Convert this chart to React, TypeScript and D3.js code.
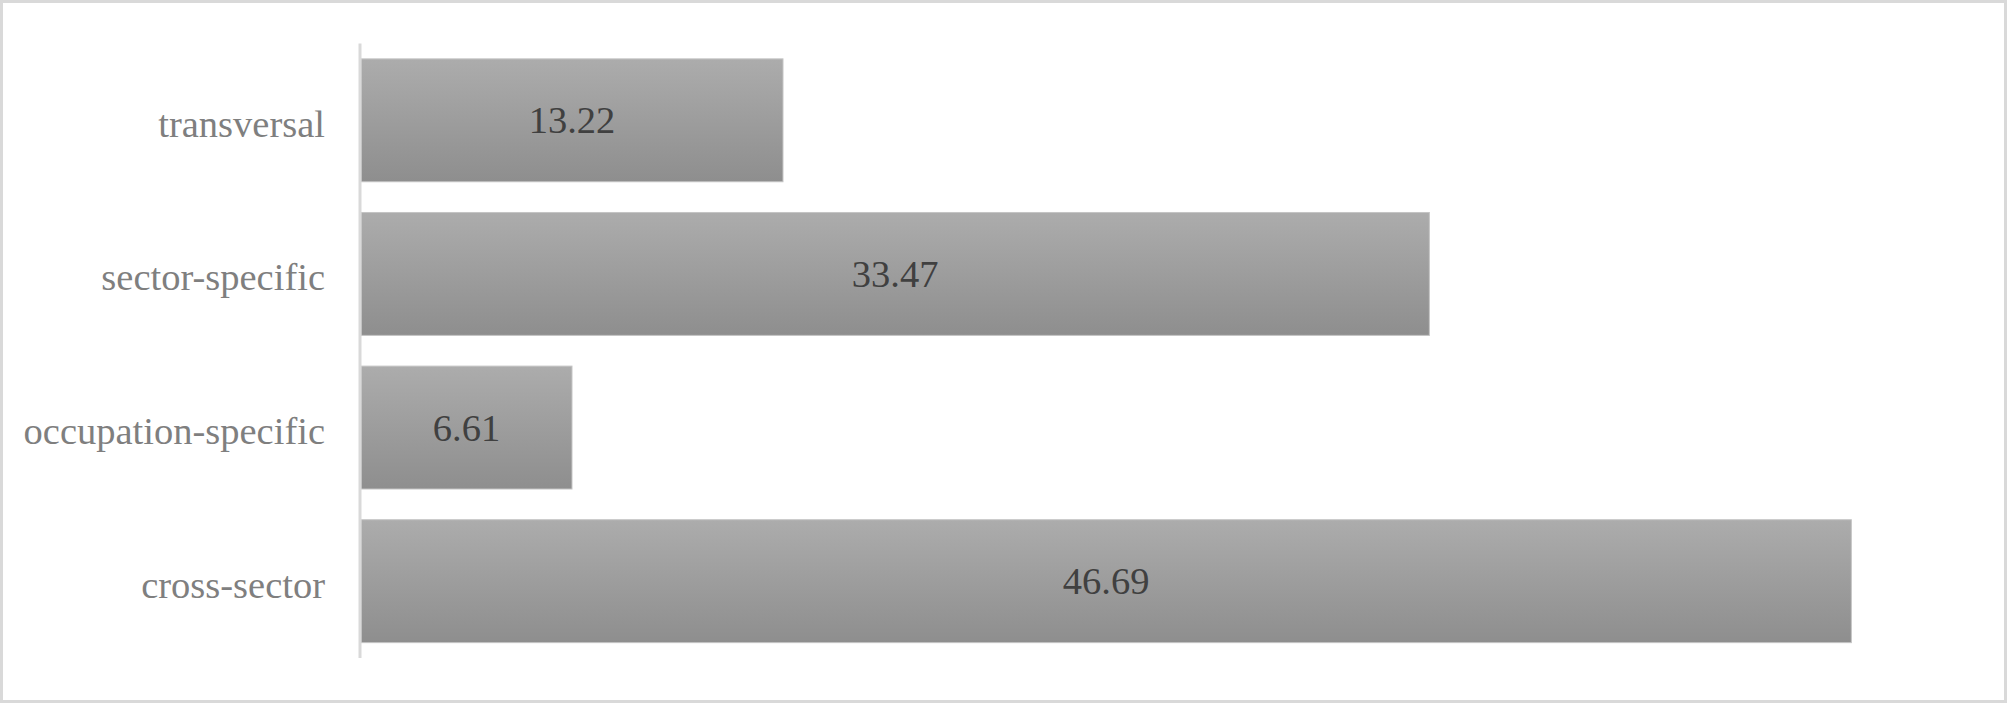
import React from "react";
import * as d3 from "d3";

const categories = ["transversal", "sector-specific", "occupation-specific", "cross-sector"];
const values = [13.22, 33.47, 6.61, 46.69];
const xDomain = [0, 50];

const W = 2008;
const H = 704;

export default function App() {
  const x = d3.scaleLinear().domain(xDomain).range([361, 1957]);
  const y = d3
    .scaleBand<string>()
    .domain(categories)
    .range([43.5, 658])
    .paddingInner(0.2)
    .paddingOuter(0.1);
  const font = "'Liberation Serif', 'Times New Roman', serif";
  const fs = 38.5;
  return (
    <svg
      width={W}
      height={H}
      style={{ position: "absolute", left: 0, top: 0, background: "#fff" }}
    >
      <defs>
        <linearGradient id="barGrad" x1="0" y1="0" x2="0" y2="1">
          <stop offset="0%" stopColor="#acacac" />
          <stop offset="100%" stopColor="#8e8e8e" />
        </linearGradient>
      </defs>
      <rect x={1.5} y={1.5} width={W - 4} height={H - 4} fill="#fff" stroke="#d9d9d9" strokeWidth={3} />
      {categories.map((c, i) => {
        const by = y(c)!;
        const bh = y.bandwidth();
        const x0 = x(0);
        const x1 = x(values[i]);
        return (
          <g key={c}>
            <rect x={x0} y={by} width={x1 - x0} height={bh} fill="url(#barGrad)" stroke="#c4c4c4" strokeWidth={1} />
            <text
              x={(x0 + x1) / 2}
              y={by + bh / 2 + 13}
              textAnchor="middle"
              fontFamily={font}
              fontSize={fs}
              fill="#404040"
            >
              {values[i].toFixed(2)}
            </text>
            <text
              x={325}
              y={by + bh / 2 + 16.5}
              textAnchor="end"
              fontFamily={font}
              fontSize={fs}
              fill="#7f7f7f"
            >
              {c}
            </text>
          </g>
        );
      })}
      <line x1={x(0) - 1} x2={x(0) - 1} y1={43.5} y2={658} stroke="#d9d9d9" strokeWidth={3} />
    </svg>
  );
}
